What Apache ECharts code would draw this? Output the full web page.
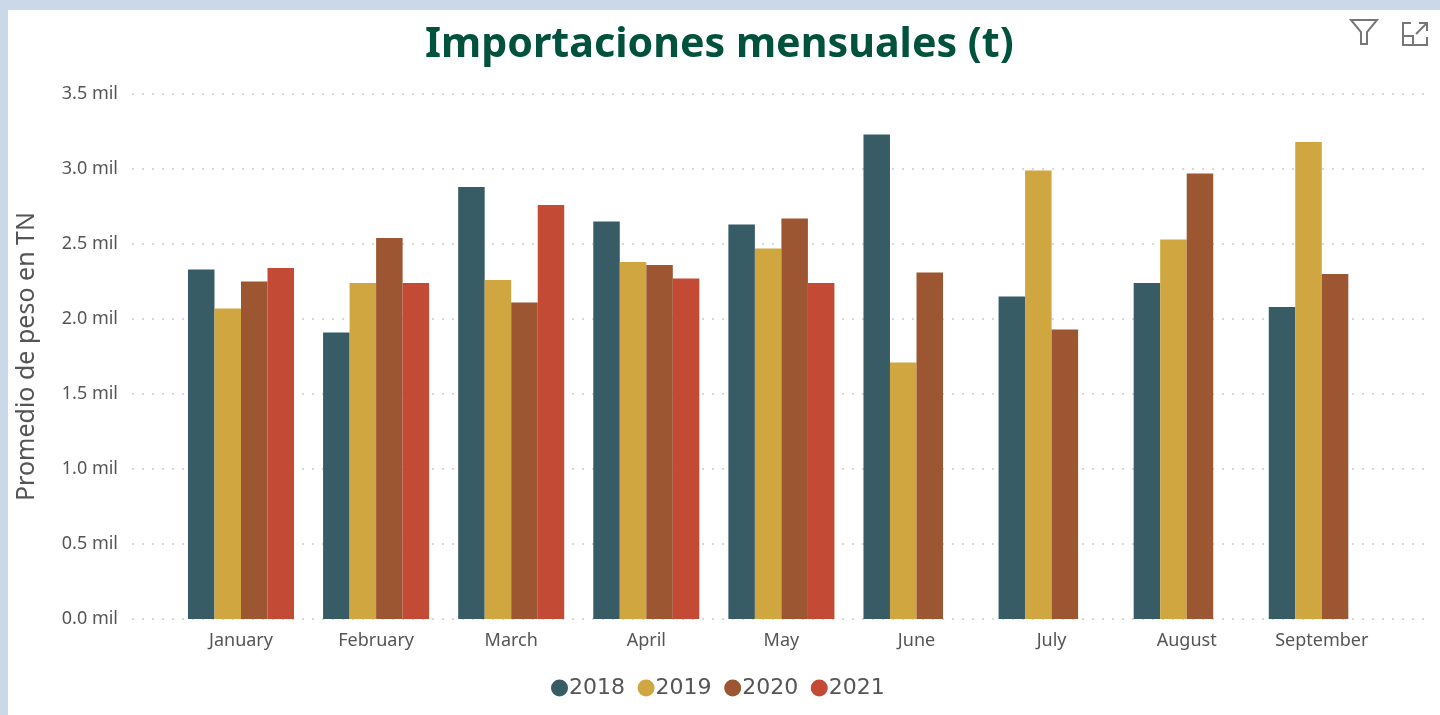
<!DOCTYPE html>
<html><head><meta charset="utf-8">
<style>html,body{margin:0;padding:0;background:#cbd8ea;overflow:hidden}
#c{position:absolute;left:8px;top:10px;width:1432px;height:705px;background:#fff;filter:blur(0.5px)}</style>
<script src="https://cdn.jsdelivr.net/npm/echarts@6/dist/echarts.min.js"></script>
</head><body><div id="c"></div>
<script>
const months=['January','February','March','April','May','June','July','August','September'];
const y2018=[2.33,1.91,2.88,2.65,2.63,3.23,2.15,2.24,2.08];
const y2019=[2.07,2.24,2.26,2.38,2.47,1.71,2.99,2.53,3.18];
const y2020=[2.25,2.54,2.11,2.36,2.67,2.31,1.93,2.97,2.30];
const y2021=[2.34,2.24,2.76,2.27,2.24,null,null,null,null];
const seriesNames=['2018','2019','2020','2021'];
const seriesColors=['#375c65','#cfa63f','#9c5632','#c34b35'];
const seriesValues=[y2018,y2019,y2020,y2021];
const font='"Noto Sans"';
const iconStyle={fill:'none',stroke:'#777',lineWidth:2};
const chart=echarts.init(document.getElementById('c'),null,{renderer:'canvas'});
chart.setOption({
  animation:false,
  backgroundColor:'#fff',
  title:{text:'Importaciones mensuales (t)',left:412,top:10,
    textStyle:{fontFamily:font,fontWeight:'bold',fontSize:41.2,color:'#00523c'}},
  legend:{data:seriesNames,bottom:11,left:538,icon:'circle',itemWidth:17,itemHeight:17,itemGap:12.6,
    textStyle:{fontFamily:'"DejaVu Sans"',fontSize:22,color:'#555',padding:[0,0,0,-4]}},
  grid:[
    {left:124,right:12,top:84,height:525,outerBoundsMode:'none'},
    {left:165.45,width:1215.9,top:84,height:525,outerBoundsMode:'none'}
  ],
  xAxis:[
    {gridIndex:0,type:'category',data:months,show:false},
    {gridIndex:1,type:'category',data:months,
      axisLine:{show:false},axisTick:{show:false},
      axisLabel:{fontFamily:font,fontSize:18,color:'#555',margin:13,interval:0}}
  ],
  yAxis:[
    {gridIndex:0,type:'value',min:0,max:3.5,interval:0.5,
      name:'Promedio de peso en TN',nameLocation:'middle',nameGap:93,
      nameTextStyle:{fontFamily:font,fontSize:25,color:'#555'},
      axisLine:{show:false},axisTick:{show:false},
      axisLabel:{fontFamily:font,fontSize:18,color:'#555',margin:14,
        formatter:v=>v.toFixed(1)+' mil'},
      splitLine:{show:true,lineStyle:{color:'#d8d8d8',width:2,type:[2,8]}}},
    {gridIndex:1,type:'value',min:0,max:3.5,interval:0.5,show:false,splitLine:{show:false}}
  ],
  series:seriesNames.map((n,i)=>({
    name:n,type:'bar',xAxisIndex:1,yAxisIndex:1,data:seriesValues[i],
    barGap:0,barCategoryGap:'21.5%',itemStyle:{color:seriesColors[i]}
  })),
  graphic:[
    {type:'polygon',shape:{points:[[1343,10],[1369,10],[1359,22],[1359,34],[1353,34],[1353,22]]},style:iconStyle},
    {type:'polyline',shape:{points:[[1403,13],[1395,13],[1395,35],[1419,35],[1419,27]]},style:iconStyle},
    {type:'polyline',shape:{points:[[1395,26],[1405,26],[1405,35]]},style:iconStyle},
    {type:'polyline',shape:{points:[[1408,24],[1418,14]]},style:iconStyle},
    {type:'polyline',shape:{points:[[1411,13],[1419,13],[1419,21]]},style:iconStyle}
  ]
});
</script></body></html>
